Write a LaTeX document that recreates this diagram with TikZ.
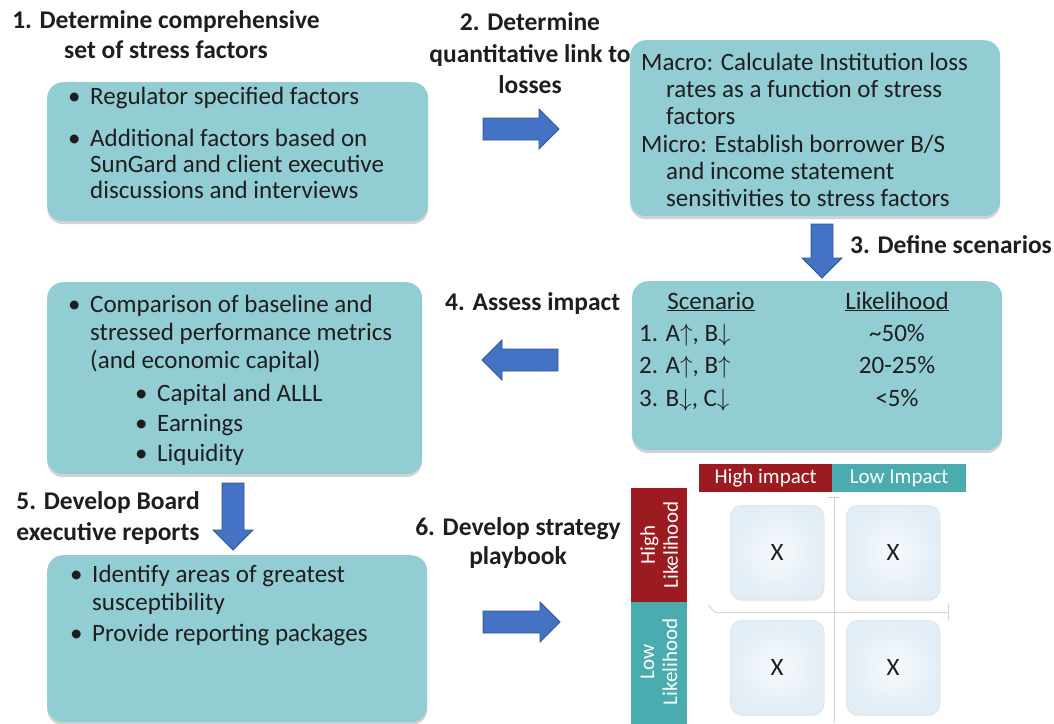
\documentclass[tikz,border=0pt]{standalone}
\usepackage{fontspec}
\setmainfont{Carlito}
\usetikzlibrary{shadows}

\definecolor{boxteal}{RGB}{146,205,212}
\definecolor{arrowblue}{RGB}{68,114,196}
\definecolor{arrowedge}{RGB}{47,85,151}
\definecolor{matred}{RGB}{155,27,32}
\definecolor{matteal}{RGB}{75,172,176}
\definecolor{cellfill}{RGB}{226,237,246}
\definecolor{ink}{RGB}{30,30,30}

\newcommand{\bodysize}{\fontsize{25}{27}\selectfont}
\newcommand{\ttlsize}{\bfseries\fontsize{25.5}{30}\selectfont}
\newcommand{\matsize}{\fontsize{21}{23}\selectfont}

\tikzset{
  stepbox/.style={fill=boxteal, rounded corners=16pt, anchor=north west, inner sep=0,
    drop shadow={shadow xshift=0pt, shadow yshift=-3pt, opacity=.35, fill=gray}},
  body/.style={font=\bodysize, text=ink, anchor=base west, inner sep=0},
  ttl/.style={font=\ttlsize, text=ink, anchor=base, inner sep=0},
  hdr/.style={font=\matsize, text=white, anchor=north west, inner sep=0},
  cell/.style={inner color=white!70!cellfill, outer color=cellfill, draw=cellfill!85!gray,
    rounded corners=12pt, minimum size=94pt, anchor=north west, font=\bodysize, text=ink,
    drop shadow={shadow xshift=0pt, shadow yshift=-2pt, opacity=.15, fill=gray}},
  axisline/.style={draw=gray!35, line width=.8pt},
  % block arrow pointing along +x, #1 = length
  barrow/.pic={
    \filldraw[fill=arrowblue, draw=arrowedge, line width=.8pt]
      (0,-11) -- ({#1-20},-11) -- ({#1-20},-20) -- (#1,0) -- ({#1-20},20)
      -- ({#1-20},11) -- (0,11) -- cycle;
  }
}

\begin{document}
\begin{tikzpicture}[x=1pt, y=-1pt]
\useasboundingbox (0,0) rectangle (1054,723);

% step 1
\node[ttl] (t1a) at (166,28) {1. Determine comprehensive};
\node[ttl] (t1b) at (166,58) {set of stress factors};
\node[stepbox, minimum width=381pt, minimum height=139pt] (box1) at (47,82) {};
\node[body] (d1a) at (68,104) {•};
\node[body] (l1a) at (90,104) {Regulator specified factors};
\node[body] (d1b) at (68,146) {•};
\node[body] (l1b) at (90,146) {Additional factors based on};
\node[body] (l1c) at (90,172) {SunGard and client executive};
\node[body] (l1d) at (90,198) {discussions and interviews};

% step 2
\node[ttl] (t2a) at (530,30) {2. Determine};
\node[ttl] (t2b) at (530,62) {quantitative link to};
\node[ttl] (t2c) at (530,93) {losses};
\pic at (483,129) {barrow=76};
\node[stepbox, minimum width=370pt, minimum height=176pt] (box2) at (630,40) {};
\node[body] (l2a) at (641,70) {Macro: Calculate Institution loss};
\node[body] (l2b) at (666,97) {rates as a function of stress};
\node[body] (l2c) at (666,124) {factors};
\node[body] (l2d) at (641,152) {Micro: Establish borrower B/S};
\node[body] (l2e) at (666,179) {and income statement};
\node[body] (l2f) at (666,206) {sensitivities to stress factors};

% step 3
\pic[rotate=-90] at (822,224) {barrow=54};
\node[ttl, anchor=base west] (t3) at (850,253) {3. Define scenarios};
\node[stepbox, minimum width=370pt, minimum height=169pt] (box3) at (632,281) {};
\node[body, anchor=base] (sc) at (711,309) {\underline{Scenario}};
\node[body, anchor=base] (lk) at (897,309) {\underline{Likelihood}};
\node[body] (s1) at (639,341) {1. A$\uparrow$, B$\downarrow$};
\node[body] (s2) at (639,373) {2. A$\uparrow$, B$\uparrow$};
\node[body] (s3) at (639,406) {3. B$\downarrow$, C$\downarrow$};
\node[body, anchor=base] (p1) at (897,341) {\textasciitilde50\%};
\node[body, anchor=base] (p2) at (897,373) {20-25\%};
\node[body, anchor=base] (p3) at (897,406) {<5\%};

% step 4
\node[ttl, anchor=base west] (t4) at (445,310) {4. Assess impact};
\pic[rotate=180] at (558,360) {barrow=76};
\node[stepbox, minimum width=375pt, minimum height=192pt] (box4) at (47,282) {};
\node[body] (d4a) at (68,312) {•};
\node[body] (l4a) at (90,312) {Comparison of baseline and};
\node[body] (l4b) at (90,340) {stressed performance metrics};
\node[body] (l4c) at (90,368) {(and economic capital)};
\node[body] (d4b) at (135,401) {•};
\node[body] (l4d) at (157,401) {Capital and ALLL};
\node[body] (d4c) at (135,431) {•};
\node[body] (l4e) at (157,431) {Earnings};
\node[body] (d4d) at (135,461) {•};
\node[body] (l4f) at (157,461) {Liquidity};

% step 5
\node[ttl] (t5a) at (108,509) {5. Develop Board};
\node[ttl] (t5b) at (108,540) {executive reports};
\pic[rotate=-90] at (233,483) {barrow=67};
\node[stepbox, minimum width=380pt, minimum height=167pt] (box5) at (47,555) {};
\node[body] (d5a) at (70,582) {•};
\node[body] (l5a) at (92,582) {Identify areas of greatest};
\node[body] (l5b) at (92,610) {susceptibility};
\node[body] (d5b) at (70,641) {•};
\node[body] (l5c) at (92,641) {Provide reporting packages};

% step 6
\node[ttl] (t6a) at (518,535) {6. Develop strategy};
\node[ttl] (t6b) at (518,564) {playbook};
\pic at (483,622) {barrow=77};

% playbook matrix
\coordinate (vtop) at (834,497);
\coordinate (vbot) at (834,723);
\coordinate (hlft) at (715,612);
\coordinate (hrgt) at (948,612);
\draw[axisline] (vtop) -- (vbot);
\draw[axisline] (hlft) -- (hrgt);
\draw[axisline] ([xshift=-6pt]vtop) -- ([xshift=6pt]vtop);
\draw[axisline] ([yshift=8pt]hrgt) -- ([yshift=-8pt]hrgt);
\draw[axisline] (hlft) -- ++(-7,-7);

\node[hdr, fill=matred, minimum width=133pt, minimum height=28pt] (hi) at (699,464) {High impact};
\node[hdr, fill=matteal, minimum width=134pt, minimum height=28pt] (li) at (832,464) {Low Impact};
\node[hdr, fill=matred, minimum width=56pt, minimum height=114pt] (hl) at (631,488) {};
\node[hdr, fill=matteal, minimum width=56pt, minimum height=140pt] (ll) at (631,602) {};
\node[font=\matsize, text=white, rotate=90, align=center, inner sep=0] (hlt) at (hl.center) {High\\Likelihood};
\node[font=\matsize, text=white, rotate=90, align=center, inner sep=0] (llt) at (659,662) {Low\\Likelihood};

\node[cell] (c11) at (730,505) {X};
\node[cell] (c12) at (846,505) {X};
\node[cell] (c21) at (730,620) {X};
\node[cell] (c22) at (846,620) {X};
\end{tikzpicture}
\end{document}
